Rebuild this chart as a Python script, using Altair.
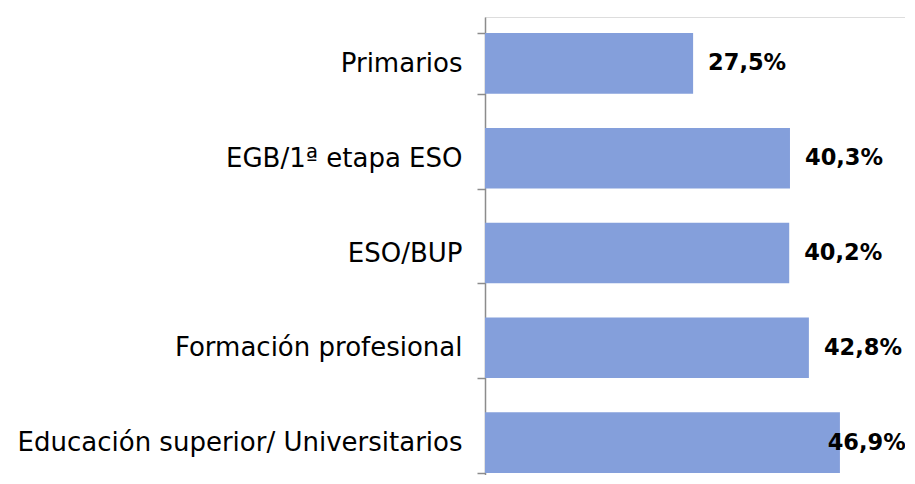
import altair as alt
import pandas as pd

categories = ["Primarios", "EGB/1ª etapa ESO", "ESO/BUP", "Formación profesional",
              "Educación superior/ Universitarios"]
values = [27.5, 40.3, 40.2, 42.8, 46.9]
labels = ["27,5%", "40,3%", "40,2%", "42,8%", "46,9%"]

df = pd.DataFrame({"cat": categories, "pct": values, "label": labels})

y_scale = alt.Scale(paddingInner=0.36, paddingOuter=0.17, range=[0, 472])
y_enc = alt.Y("cat:N", sort=categories, title=None, scale=y_scale,
              axis=alt.Axis(labelFont="DejaVu Sans", labelFontSize=26, labelColor="#000000",
                            labelLimit=600, labelPadding=15, tickSize=8, tickBand="extent",
                            tickColor="#8c8c8c", domainColor="#8c8c8c", tickWidth=1.5,
                            domainWidth=1.5, grid=False))
x_scale = alt.Scale(domain=[0, 55.5], nice=False)

bars = alt.Chart(df).mark_bar(color="#849FDB").encode(
    x=alt.X("pct:Q", scale=x_scale, axis=None),
    y=y_enc,
)

text = alt.Chart(df).transform_calculate(
    lx="min(datum.pct, 43.3)"
).mark_text(align="left", baseline="middle", dx=15, font="DejaVu Sans",
            fontSize=22.5, fontWeight="bold", color="#000000").encode(
    x=alt.X("lx:Q", scale=x_scale, axis=None),
    y=alt.Y("cat:N", sort=categories),
    text="label:N",
)

chart = (bars + text).properties(
    width=420, height=458,
    autosize=alt.AutoSizeParams(type="none"),
    padding={"left": 477, "top": 9, "right": 0, "bottom": 0},
).configure_view(stroke=None).configure(background="#ffffff")

chart.save("out.html", embed_options={"renderer": "svg", "actions": False})
